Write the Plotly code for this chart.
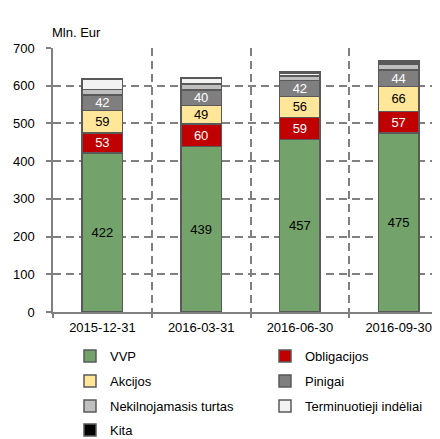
import plotly.graph_objects as go

categories = ["2015-12-31", "2016-03-31", "2016-06-30", "2016-09-30"]
vvp = [422, 439, 457, 475]
obligacijos = [53, 60, 59, 57]
akcijos = [59, 49, 56, 66]
pinigai = [42, 40, 42, 44]
nekilnojamasis = [14, 17, 12, 14]
terminuotieji = [26, 14, 8, 4]
kita = [2, 2, 4, 6]

series = [
    ("VVP", vvp, "#74A26B", "black", True, "legend"),
    ("Obligacijos", obligacijos, "#C00000", "white", True, "legend"),
    ("Akcijos", akcijos, "#FFE699", "black", True, "legend2"),
    ("Pinigai", pinigai, "#7F7F7F", "white", True, "legend2"),
    ("Nekilnojamasis turtas", nekilnojamasis, "#BFBFBF", "black", False, "legend3"),
    ("Terminuotieji indėliai", terminuotieji, "#F2F2F2", "black", False, "legend3"),
    ("Kita", kita, "#000000", "black", False, "legend4"),
]

FONT = "Liberation Sans, Arial, sans-serif"
FS = 13

fig = go.Figure()
for name, vals, color, tcolor, show_text, lg in series:
    fig.add_trace(go.Bar(
        name=name, x=categories, y=vals,
        marker=dict(color=color, line=dict(color="#595959", width=1.5)),
        text=[str(v) for v in vals] if show_text else None,
        textposition="inside" if show_text else "none",
        insidetextanchor="middle",
        textangle=0,
        textfont=dict(color=tcolor, size=FS, family=FONT),
        legend=lg,
        hoverinfo="skip",
    ))

legend_common = dict(
    orientation="h", xanchor="left", yanchor="middle",
    traceorder="normal",
    font=dict(size=FS, family=FONT, color="black"),
    entrywidth=150, entrywidthmode="pixels",
    itemwidth=30, bgcolor="rgba(0,0,0,0)",
    xref="container", yref="container",
)
rows_y = [348, 373, 398, 422]
H = 439
PLOT_H = 264
LX = 62 / 440
fig.update_layout(
    barmode="stack",
    bargap=0.59,
    width=440, height=H,
    margin=dict(l=45, r=0, t=40, b=135),
    paper_bgcolor="white", plot_bgcolor="white",
    font=dict(family=FONT, size=FS, color="black"),
    uniformtext=dict(minsize=FS, mode="show"),
    legend=dict(**legend_common, x=LX, y=1 - rows_y[0] / H),
    legend2=dict(**legend_common, x=LX, y=1 - rows_y[1] / H),
    legend3=dict(**legend_common, x=LX, y=1 - rows_y[2] / H),
    legend4=dict(**legend_common, x=LX, y=1 - rows_y[3] / H),
    xaxis=dict(
        type="category", tickson="boundaries",
        showgrid=True, gridcolor="#808080", gridwidth=1.5, griddash="8px,5px",
        showline=True, linecolor="#808080", linewidth=1.5,
        ticks="outside", ticklen=4, tickcolor="#808080", tickwidth=1.5,
        tickfont=dict(size=FS, family=FONT, color="black"),
        ticklabelstandoff=3,
    ),
    yaxis=dict(
        range=[0, 700], dtick=100,
        showgrid=True, gridcolor="#808080", gridwidth=1.5, griddash="8px,5px",
        showline=True, linecolor="#808080", linewidth=1.5,
        ticks="outside", ticklen=5, tickcolor="#808080", tickwidth=1.5,
        tickfont=dict(size=FS, family=FONT, color="black"),
        ticklabelstandoff=9,
        zeroline=False,
    ),
    annotations=[dict(
        text="Mln. Eur", xref="paper", yref="paper",
        x=-3 / 395, y=1 + 16 / PLOT_H, xanchor="left", yanchor="middle",
        showarrow=False, font=dict(size=FS, family=FONT, color="black"),
    )],
)

fig.write_html("out.html")
